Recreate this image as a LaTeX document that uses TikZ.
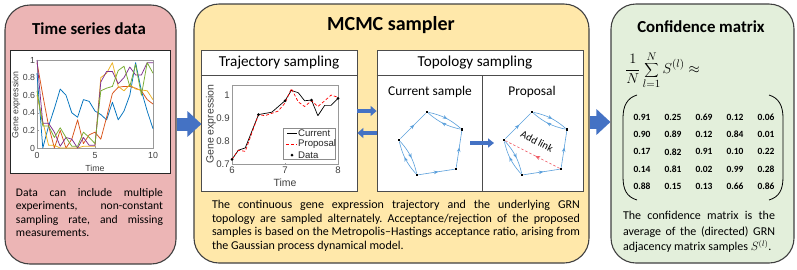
\documentclass[tikz,border=0pt]{standalone}
\usepackage{fontspec}
\setmainfont{Carlito}
\newfontfamily\plotfont{Liberation Sans}
\usetikzlibrary{arrows.meta,decorations.markings,calc}
\definecolor{pinkbox}{RGB}{236,181,181}
\definecolor{yellowbox}{RGB}{255,232,170}
\definecolor{greenbox}{RGB}{227,239,219}
\definecolor{bluearrow}{RGB}{68,114,196}
\definecolor{edgeblue}{RGB}{91,160,220}
\definecolor{linkred}{RGB}{240,90,100}
\definecolor{mblue}{RGB}{0,114,189}
\definecolor{morange}{RGB}{217,83,25}
\definecolor{myellow}{RGB}{237,177,32}
\definecolor{mpurple}{RGB}{126,47,142}
\definecolor{mgreen}{RGB}{119,172,48}
\frenchspacing
\begin{document}
\begin{tikzpicture}[x=1pt,y=-1pt,
  bigbox/.style={draw=black!75, line width=1.1pt, rounded corners=25pt, inner sep=0pt},
  panel/.style={draw=black!70, fill=white, line width=0.8pt, inner sep=0pt},
  title/.style={font=\fontsize{16.8}{18}\selectfont\bfseries, inner sep=0pt},
  subtitle/.style={font=\fontsize{15.2}{17}\selectfont, inner sep=0pt},
  subsub/.style={font=\fontsize{13.4}{15}\selectfont, inner sep=0pt},
  body/.style={font=\fontsize{12}{13.5}\selectfont, align=justify, inner sep=0pt, anchor=north},
  bigarrow/.style={draw=bluearrow, line width=13pt, -{Triangle[length=14pt,width=25pt]}},
  smallarrow/.style={draw=bluearrow, line width=4.5pt, -{Triangle[length=6pt,width=10pt]}},
  vert/.style={rectangle, fill=black, inner sep=0pt, minimum size=2.4pt},
  gedge/.style={color=edgeblue, line width=0.6pt, postaction={decorate},
    decoration={markings, mark=at position 0.55 with {\arrow{Stealth[length=4.5pt,width=3.6pt]}}}},
  linkedge/.style={color=linkred, line width=0.6pt, dash pattern=on 2.5pt off 2pt, postaction={decorate},
    decoration={markings, mark=at position 0.45 with {\arrow{Stealth[length=5pt,width=4pt]}}}},
  plotlab/.style={font=\plotfont\fontsize{8.8}{10}\selectfont, text=black!75, inner sep=0.5pt},
  plotlabB/.style={font=\plotfont\fontsize{9.6}{11}\selectfont, text=black!75, inner sep=0.5pt},
  axisbox/.style={draw=black!40, line width=0.4pt},
  mat/.style={font=\fontsize{9.5}{10}\selectfont\bfseries, inner sep=0pt}
]
\useasboundingbox (0,0) rectangle (797,269);

% ---------- big boxes ----------
\node[bigbox, fill=pinkbox, minimum width=171pt, minimum height=259pt] (tsd) at (90.5,134.5) {};
\node[bigbox, fill=yellowbox, minimum width=395pt, minimum height=259pt] (mcmc) at (391.5,133.5) {};
\node[bigbox, fill=greenbox, minimum width=183pt, minimum height=259pt] (conf) at (702.5,133.5) {};

% ---------- big arrows ----------
\coordinate (a1s) at (tsd.east |- 0,124);
\coordinate (a1t) at ($(mcmc.west |- 0,124)+(8,0)$);
\draw[bigarrow] (a1s) -- (a1t);
\coordinate (a2s) at (mcmc.east |- 0,122);
\coordinate (a2t) at (conf.west |- 0,122);
\draw[bigarrow] (a2s) -- (a2t);

% ---------- titles ----------
\node[title] (t1) at (89,29) {Time series data};
\node[title, font=\fontsize{20}{22}\selectfont\bfseries] (t2) at (391,25) {MCMC sampler};
\node[title] (t3) at (701,27) {Confidence matrix};

% ---------- left plot ----------
\node[draw=black!85, fill=white, line width=0.8pt, minimum width=160pt, minimum height=123pt, inner sep=0pt] (lplot) at (90,111.5) {};
\begin{scope}[shift={(37,148)}, x=11.6pt, y=88pt]
  \draw[axisbox] (0,0) rectangle (10,1);
  \foreach \t in {0,5,10} {\draw[black!40, line width=0.3pt] (\t,0) -- (\t,0.02);}
  \foreach \v in {0.2,0.4,0.6,0.8} {\draw[black!40, line width=0.3pt] (0,\v) -- (0.15,\v);}
  \begin{scope}[line width=0.75pt, line join=round]
  \draw[mblue] plot coordinates {(0,0.85)(0.5,0)(1,0.25)(1.5,0.45)(2,0.67)(2.5,0.6)(3,0.4)(3.5,0.35)(4,0.55)(4.5,0.53)(5,0.42)(5.5,0.38)(6,0.32)(6.5,0.52)(7,0.32)(7.5,0.42)(8,0.6)(8.5,0.97)(9,0.65)(9.5,0.42)(10,0.22)};
  \draw[morange] plot coordinates {(0,0.97)(0.5,0.6)(1,0.25)(1.5,0)(2,0.2)(2.5,0)(3,0.1)(3.5,0.32)(4,0.05)(4.5,0.15)(5,0.18)(5.5,0.1)(6,0.35)(6.5,0.62)(7,0.69)(7.5,0.7)(8,0.7)(8.5,0.68)(9,0.65)(9.5,0.55)(10,0.5)};
  \draw[myellow] plot coordinates {(0,0.6)(0.5,0.3)(1,0.03)(1.5,0.03)(2,0.0)(2.5,0.0)(3,0.0)(3.5,0.0)(4,0.02)(4.5,0.02)(5,0.02)(5.5,0.8)(6,0.85)(6.5,0.97)(7,0.7)(7.5,0.65)(8,0.72)(8.5,0.67)(9,0.66)(9.5,0.65)(10,0.55)};
  \draw[mpurple] plot coordinates {(0,1.0)(0.5,0.28)(1,0.28)(1.5,0.18)(2,0.02)(2.5,0.12)(3,0.1)(3.5,0.0)(4,0.12)(4.5,0.03)(5,0.03)(5.5,0.75)(6,0.87)(6.5,0.87)(7,0.73)(7.5,0.8)(8,0.92)(8.5,0.83)(9,0.83)(9.5,0.97)(10,0.97)};
  \draw[mgreen] plot coordinates {(0,0.65)(0.5,0.25)(1,0.25)(1.5,0.12)(2,0.23)(2.5,0.12)(3,0.02)(3.5,0.02)(4,0.18)(4.5,0.12)(5,0.05)(5.5,0.65)(6,0.68)(6.5,0.7)(7,0.88)(7.5,0.93)(8,0.7)(8.5,0.95)(9,0.6)(9.5,0.97)(10,0.85)};
  \end{scope}
  \foreach \v/\l [count=\i] in {0/0,0.2/0.2,0.4/0.4,0.6/0.6,0.8/0.8,1/1} {\node[plotlab, anchor=east] (ly\i) at (-0.1,\v) {\l};}
  \foreach \t [count=\i] in {0,5,10} {\node[plotlab, anchor=north] (lx\i) at (\t,-0.04) {\t};}
\end{scope}
\node[plotlab] (lxl) at (95,168) {Time};
\node[plotlab, rotate=90] (lyl) at (16,105) {Gene expression};

% ---------- left text ----------
\node[body, font=\fontsize{11.6}{13.5}\selectfont, text width=147pt] (ltxt) at (89.5,188) {Data can include multiple\linebreak experiments, non-constant\linebreak sampling rate, and missing\linebreak measurements.};

% ---------- trajectory panel ----------
\node[panel, minimum width=156pt, minimum height=141pt] (traj) at (279,121) {};
\draw[black!70, line width=0.8pt] (traj.west |- 0,75.5) -- (traj.east |- 0,75.5);
\node[subtitle] (trajt) at (279,63) {Trajectory sampling};
\begin{scope}[shift={(-86,325)}, x=53pt, y=230pt]
  \draw[axisbox] (6,0.7) rectangle (8,1.043);
  \foreach \t in {7} {\draw[black!40, line width=0.3pt] (\t,0.7) -- (\t,0.705);}
  \foreach \v in {0.8,0.9,1} {\draw[black!40, line width=0.3pt] (6,\v) -- (6.02,\v);}
  \draw[black, line width=0.7pt, line join=round] plot coordinates {(6,0.72)(6.12,0.76)(6.25,0.77)(6.5,0.915)(6.75,0.925)(7,0.975)(7.12,1.02)(7.25,1.01)(7.37,0.975)(7.5,0.978)(7.62,0.91)(7.75,0.955)(7.87,0.955)(8,0.985)};
  \draw[red, line width=0.7pt, dash pattern=on 3pt off 2pt, line join=round] plot coordinates {(6,0.72)(6.12,0.76)(6.25,0.755)(6.5,0.915)(6.62,0.91)(6.87,0.93)(7,0.965)(7.12,1.028)(7.25,0.97)(7.37,0.95)(7.5,0.975)(7.62,0.95)(7.75,0.975)(7.87,1.0)(8,0.99)};
  \foreach \t/\v in {6/0.72,6.5/0.915,7/0.975,7.5/0.978,8/0.985} {\fill[black] (\t,\v) circle[radius=1.5pt];}
  \foreach \v/\l [count=\i] in {0.7/0.7,0.8/0.8,0.9/0.9,1/1} {\node[plotlabB, anchor=east] (ty\i) at (5.97,\v) {\l};}
  \foreach \t [count=\i] in {6,7,8} {\node[plotlabB, anchor=north] (tx\i) at (\t,0.69) {\t};}
\end{scope}
\node[plotlabB, font=\plotfont\fontsize{10.5}{12}\selectfont] (txl) at (285,183) {Time};
\node[plotlabB, font=\plotfont\fontsize{10.5}{12}\selectfont, rotate=90] (tyl) at (211,124) {Gene expression};
% legend
\node[draw=black!45, fill=white, line width=0.4pt, minimum width=52pt, minimum height=31pt, inner sep=0pt] (leg) at (309,143.5) {};
\draw[black, line width=0.7pt] (287,133) -- (297,133);
\draw[red, line width=0.7pt, dash pattern=on 3pt off 2pt] (286,144) -- (297,144);
\fill[black] (292,155) circle[radius=1.5pt];
\node[plotlabB, text=black!85, anchor=west] (lg1) at (297.5,133) {Current};
\node[plotlabB, text=black!85, anchor=west] (lg2) at (297.5,144) {Proposal};
\node[plotlabB, text=black!85, anchor=west] (lg3) at (297.5,155) {Data};

% ---------- topology panel ----------
\node[panel, minimum width=206pt, minimum height=141pt] (topo) at (480,121) {};
\draw[black!70, line width=0.8pt] (topo.west |- 0,75.5) -- (topo.east |- 0,75.5);
\coordinate (divtop) at (482,75.5);
\draw[black!70, line width=0.8pt] (divtop) -- (divtop |- topo.south);
\node[subtitle] (topot) at (475,63) {Topology sampling};
\node[subsub] (curt) at (430,92) {Current sample};
\node[subsub] (prot) at (532,92) {Proposal};

\foreach \p/\dx in {c/0, p/105} {
  \node[vert] (\p A) at (427+\dx,112) {};
  \node[vert] (\p B) at (462+\dx,129.5) {};
  \node[vert] (\p C) at (456+\dx,169) {};
  \node[vert] (\p D) at (417+\dx,175) {};
  \node[vert] (\p E) at (399+\dx,140) {};
  \draw[gedge] (\p E) -- (\p A);
  \draw[gedge] (\p A) to[bend left=14] (\p B);
  \draw[gedge] (\p B) to[bend left=14] (\p A);
  \draw[gedge] (\p C) -- (\p B);
  \draw[gedge] (\p D) -- (\p C);
  \draw[gedge] (\p E) to[bend left=14] (\p D);
  \draw[gedge] (\p D) to[bend left=14] (\p E);
}
\draw[linkedge] (pC) -- (pE);
\node[font=\fontsize{10.5}{12}\selectfont, rotate=-27, inner sep=0pt] (addl) at (537,141.5) {Add link};

% small arrows
\coordinate (s1a) at (traj.east |- 0,111);
\coordinate (s1b) at (topo.west |- 0,111);
\draw[smallarrow] (s1a) -- (s1b);
\coordinate (s2a) at (topo.west |- 0,133);
\coordinate (s2b) at (traj.east |- 0,133);
\draw[smallarrow] (s2a) -- (s2b);
\coordinate (s3a) at (470,143);
\coordinate (s3b) at (494,143);
\draw[draw=bluearrow, line width=3.5pt, -{Triangle[length=6pt,width=9pt]}] (s3a) -- (s3b);

% ---------- middle text ----------
\node[body, text width=368pt] (mtxt) at (396,200) {The continuous gene expression trajectory and the underlying GRN\linebreak topology are sampled alternately. Acceptance/rejection of the proposed\linebreak samples is based on the Metropolis–Hastings acceptance ratio, arising from\linebreak the Gaussian process dynamical model.};

% ---------- confidence matrix ----------
\node[inner sep=0pt, anchor=west, font=\fontsize{15}{17}\selectfont] (formula) at (625,70) {$\displaystyle \frac{1}{N}\sum\limits_{l=1}^{N} S^{(l)} \approx$};
\draw[black, line width=0.8pt] (637,95) .. controls (627,98) and (623,106) .. (623,118) -- (623,177) .. controls (623,190) and (627,197) .. (637,200);
\draw[black, line width=0.8pt] (769,95) .. controls (779,98) and (783,106) .. (783,118) -- (783,177) .. controls (783,190) and (779,197) .. (769,200);
\foreach \row [count=\r] in {{0.91,0.25,0.69,0.12,0.06},{0.90,0.89,0.12,0.84,0.01},{0.17,0.82,0.91,0.10,0.22},{0.14,0.81,0.02,0.99,0.28},{0.88,0.15,0.13,0.66,0.86}} {
  \foreach \val [count=\c] in \row {
    \pgfmathsetmacro{\xx}{642+31*(\c-1)}
    \pgfmathsetmacro{\yy}{117+17.4*(\r-1)}
    \node[mat] (m\r\c) at (\xx,\yy) {\val};
  }
}
\node[body, font=\fontsize{12}{15.5}\selectfont, text width=152pt] (rtxt) at (699,211) {The confidence matrix is the\linebreak average of the (directed) GRN\linebreak adjacency matrix samples $S^{(l)}$.};
\end{tikzpicture}
\end{document}
